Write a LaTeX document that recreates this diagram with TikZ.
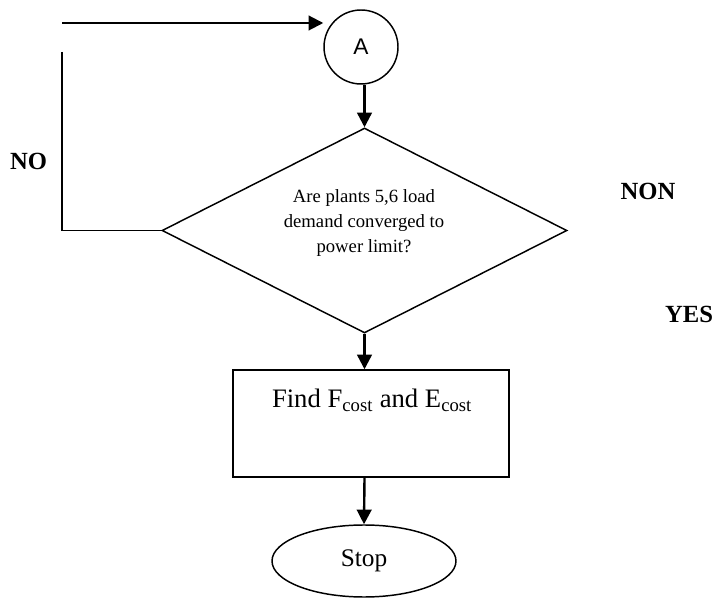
\documentclass[tikz,border=0pt]{standalone}
\usepackage{fontspec}
\setmainfont{Liberation Serif}
\newfontfamily\arialfont{Liberation Sans}
\usetikzlibrary{shapes.geometric,arrows.meta}
\tikzset{
  flowline/.style={line width=1.8pt,-{Triangle[length=11pt,width=11pt]}},
  loopline/.style={line width=1.1pt},
  answer/.style={font=\fontsize{18.5}{22}\selectfont\bfseries},
}
\begin{document}
\begin{tikzpicture}[x=0.75pt,y=-0.75pt]
  \useasboundingbox (0,0) rectangle (714,598);
  \node[draw,circle,line width=1.1pt,minimum size=55.5pt,inner sep=0pt,font=\arialfont\fontsize{17}{20}\selectfont] (A) at (361,47) {A};
  \node[draw,diamond,line width=1.1pt,minimum width=303.75pt,minimum height=153.75pt,inner sep=0pt] (Q) at (364.5,230.5) {};
  \node[align=center,font=\fontsize{14}{18.4}\selectfont] (Qtext) at (364,223) {Are plants 5,6 load\\demand converged to\\power limit?};
  \node[draw,rectangle,line width=1.1pt,minimum width=207pt,minimum height=80.25pt] (B) at (371,423.5) {};
  \node[anchor=base,font=\fontsize{20}{24}\selectfont] (Btext) at (372,407) {Find F\textsubscript{cost} and E\textsubscript{cost}};
  \node[draw,ellipse,line width=1.1pt,minimum width=138pt,minimum height=54pt,inner sep=0pt,font=\fontsize{19}{22}\selectfont] (S) at (364,561) {Stop};
  \node[answer] (no) at (28.5,161) {NO};
  \node[answer] (non) at (648,191) {NON};
  \node[answer] (yes) at (689,314) {YES};
  \coordinate (in) at (62,23);
  \coordinate (back) at (62,52);
  \draw[flowline,line width=1.5pt] (in) -- (in -| A.west);
  \draw[loopline] (back) |- (Q.west);
  \draw[flowline] (A.south -| Q.north) -- (Q.north);
  \draw[flowline] (Q.south) -- (Q.south |- B.north);
  \draw[flowline] (Q.south |- B.south) -- (S.north);
\end{tikzpicture}
\end{document}
